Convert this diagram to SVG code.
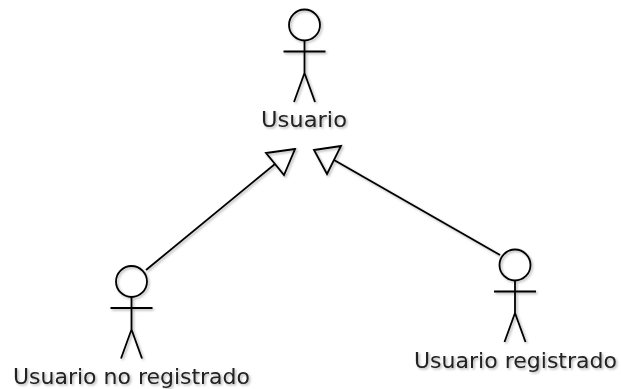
<svg xmlns="http://www.w3.org/2000/svg" width="621" height="389" viewBox="0 0 621 389">
<defs>
<filter id="sh" x="-20%" y="-20%" width="140%" height="140%"><feDropShadow dx="1.5" dy="1.5" stdDeviation="1" flood-color="#000" flood-opacity="0.3"/></filter>
<g id="actor" class="ln"><circle cx="0" cy="15" r="15.5"/><path d="M0 30.5V63M-21 41.5H21M0 63L-10.500 92M0 63L10.500 92"/></g>
</defs>
<style>
.ln{fill:none;stroke:#000;stroke-width:1.8}
.tx{font-family:"DejaVu Sans",sans-serif;font-size:22px;fill:#222;filter:url(#sh)}
</style>
<rect width="621" height="389" fill="#fff"/>
<g id="connectors" class="ln" filter="url(#sh)">
<path d="M146 270L275 164"/><path d="M295 149L266 153L284 175Z"/>
<path d="M500 255L334 160"/><path d="M314 150L341 146L327 174Z"/>
</g>
<g id="usuario"><use href="#actor" x="304.500" y="10" filter="url(#sh)"/><text class="tx" x="261" y="127" textLength="86" lengthAdjust="spacingAndGlyphs">Usuario</text></g>
<g id="usuario-no-registrado"><use href="#actor" x="131.500" y="266.500" filter="url(#sh)"/><text class="tx" x="13" y="384" textLength="237" lengthAdjust="spacingAndGlyphs">Usuario no registrado</text></g>
<g id="usuario-registrado"><use href="#actor" x="515" y="250" filter="url(#sh)"/><text class="tx" x="414" y="368" textLength="203" lengthAdjust="spacingAndGlyphs">Usuario registrado</text></g>
</svg>
